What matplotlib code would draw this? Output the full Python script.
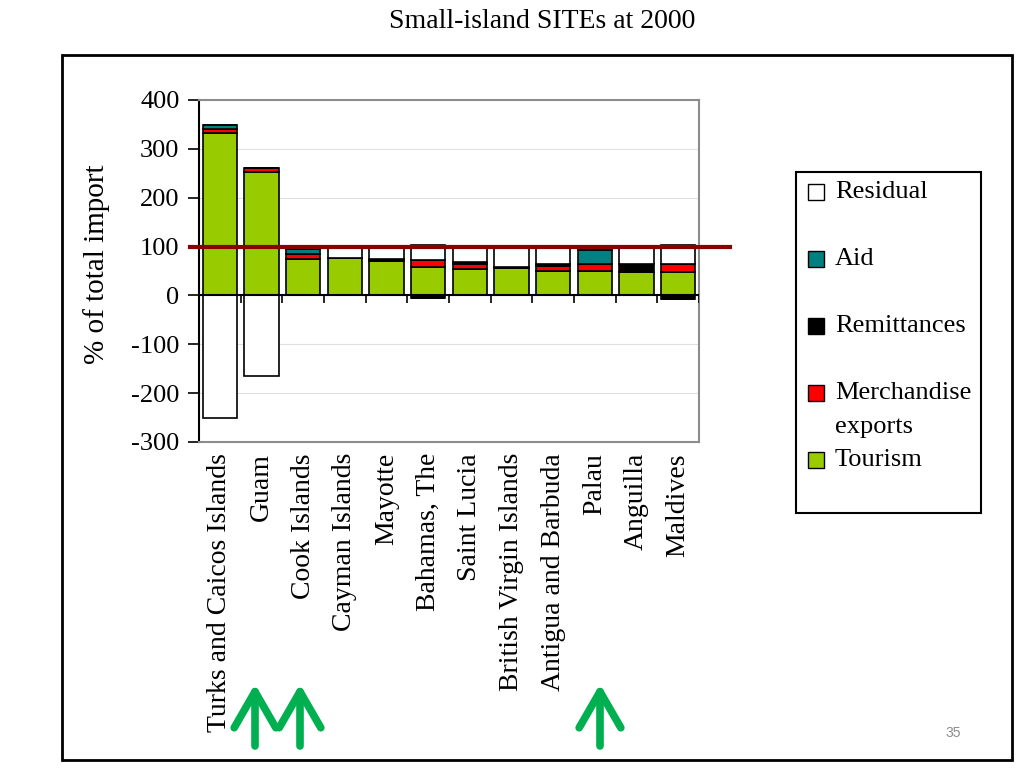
import matplotlib.pyplot as plt
import numpy as np
from matplotlib.patches import Rectangle, FancyArrowPatch

plt.rcParams['font.family'] = ['Liberation Serif', 'DejaVu Serif']
plt.rcParams['axes.unicode_minus'] = False

# Daten (% der Gesamtimporte)
countries = ["Turks and Caicos Islands", "Guam", "Cook Islands", "Cayman Islands",
             "Mayotte", "Bahamas, The", "Saint Lucia", "British Virgin Islands",
             "Antigua and Barbuda", "Palau", "Anguilla", "Maldives"]
tourism = [333, 252, 75, 76, 70, 58, 55, 57, 51, 50, 47, 47]
merchandise = [8, 8, 10, 0, 0, 15, 10, 0, 10, 15, 0, 17]
remittances = [0, 0, 0, 0, 4, -5, 4, 2, 4, 0, 17, -8]
aid = [7, 0, 10, 0, 0, 0, 0, 0, 0, 27, 0, 0]
residual = [-250, -164, 5, 24, 26, 31, 31, 41, 35, 4, 36, 39]
threshold = 100

series = [("Tourism", tourism, "#99CC00"),
          ("Merchandise\nexports", merchandise, "#FF0000"),
          ("Remittances", remittances, "#000000"),
          ("Aid", aid, "#008080"),
          ("Residual", residual, "#FFFFFF")]

W, H = 1024, 768
fig = plt.figure(figsize=(W / 100, H / 100), dpi=100)

def fx(px):
    return px / W

def fy(py):
    return 1 - py / H

ax = fig.add_axes([fx(199), fy(442), fx(699) - fx(199), fy(100) - fy(442)])
x = np.arange(len(countries))

# gestapelte Balken, positive und negative Teile getrennt
pos_base = np.zeros(len(countries))
neg_base = np.zeros(len(countries))
for name, vals, color in series:
    v = np.array(vals, dtype=float)
    p = np.where(v > 0, v, 0)
    n = np.where(v < 0, v, 0)
    ax.bar(x, p, 0.82, bottom=pos_base, color=color, edgecolor='black', linewidth=1.2, zorder=3)
    ax.bar(x, n, 0.82, bottom=neg_base, color=color, edgecolor='black', linewidth=1.2, zorder=3)
    pos_base += p
    neg_base += n

ax.set_xlim(-0.5, len(countries) - 0.5)
ax.set_ylim(-300, 400)
ax.set_yticks(np.arange(-300, 401, 100))
ax.tick_params(axis='y', labelsize=19, length=8, width=1.2, direction='out', pad=6)
ax.set_xticks(x)
ax.set_xticklabels(countries, rotation=90, fontsize=20, va='top', ha='center')
ax.tick_params(axis='x', length=0, pad=8)
ax.yaxis.grid(True, color='#E0E0E0', linewidth=0.8, zorder=0)
ax.set_axisbelow(True)
for s in ['top', 'right', 'bottom']:
    ax.spines[s].set_color('#8C8C8C')
    ax.spines[s].set_linewidth(1.5)
ax.spines['left'].set_linewidth(1.5)

# Nulllinie mit Teilstrichen an den Kategoriegrenzen
ax.axhline(0, color='black', linewidth=1.5, zorder=4)
ax.vlines(np.arange(len(countries)) + 0.5, -16, 0, color='black', linewidth=1.2, zorder=4)

# 100%-Linie
ax.plot([-0.72, 12.24], [threshold, threshold], color='#8B0000', linewidth=3, zorder=5, clip_on=False)

fig.text(fx(97), fy(264), "% of total import", rotation=90, fontsize=21, ha='center', va='center')
fig.text(fx(542), fy(22), "Small-island SITEs at 2000", fontsize=20, ha='center', va='center')

# äußerer Rahmen
fig.add_artist(Rectangle((fx(62), fy(760)), fx(1012) - fx(62), fy(55) - fy(760),
                         transform=fig.transFigure, fill=False, edgecolor='black', linewidth=2))

# Legende (manuell)
fig.add_artist(Rectangle((fx(796), fy(513)), fx(981) - fx(796), fy(172) - fy(513),
                         transform=fig.transFigure, fill=False, edgecolor='black', linewidth=1.5))
legend_y = {"Residual": 192, "Aid": 259, "Remittances": 326, "Merchandise\nexports": 393, "Tourism": 460}
for name, vals, color in series:
    py = legend_y[name]
    fig.add_artist(Rectangle((fx(808), fy(py + 8)), fx(16), 16 / H, transform=fig.transFigure,
                             facecolor=color, edgecolor='black', linewidth=1.0))
    lines = name.split("\n")
    for i, line in enumerate(lines):
        fig.text(fx(835), fy(py + 34 * i), line, fontsize=19, ha='left', va='center')

# grüne Pfeile
for px in [255, 300, 600]:
    fig.add_artist(FancyArrowPatch((fx(px), fy(746)), (fx(px), fy(684)), transform=fig.transFigure,
                                   arrowstyle='->,head_length=1.3,head_width=0.75', mutation_scale=20,
                                   color='#00B050', linewidth=5.5, shrinkA=0, shrinkB=0))

fig.text(fx(953), fy(733), "35", fontsize=10, color='#8C8C8C', ha='center', va='center',
         family=['Liberation Sans', 'DejaVu Sans'])

fig.savefig("out.png", dpi=100)
